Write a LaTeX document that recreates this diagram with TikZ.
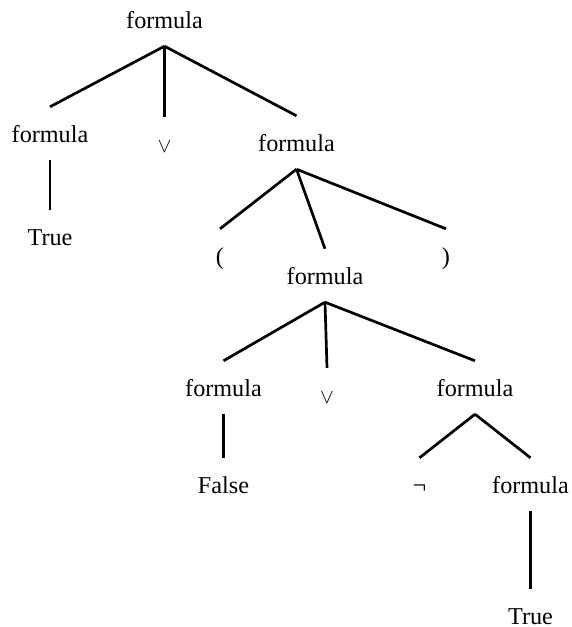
\documentclass[tikz,border=0pt]{standalone}
\usepackage{fontspec}
\setmainfont{Liberation Serif}

\begin{document}
\begin{tikzpicture}[%
	x=1pt, y=1pt,
	grow=down,
	every node/.style = {anchor=base, inner sep=0pt, text height=35.5pt, text depth=17.5pt,
	  font=\fontsize{24.2}{29}\selectfont},
	op/.style={font=\fontsize{22}{26}\selectfont},
	lastleaf/.style={text depth=0pt},
	edge from parent/.style={draw, line width=2.7pt},
	edge from parent path={(\tikzparentnode.south) -- (\tikzchildnode.north)},
	level 1/.style={sibling distance=123pt},
	level 2/.style={sibling distance=113pt},
	level 3/.style={sibling distance=126pt},
	level 4/.style={sibling distance=111pt}
	]
  \useasboundingbox (0,0) rectangle (571,-627);
  \node (root) at (164.5,-28.5) {formula}
    child [xshift=8.5pt, level distance=123pt] { node (f1) {formula}
    		child [level distance=112pt] { node (t1) {True} } }
    child [level distance=133pt] { node (or1) [op] {$\vee$} }
    child [xshift=9pt, level distance=132pt] { node (f2) {formula}
    		child [xshift=36.5pt, level distance=122pt] { node (lp) {(} }
    		child [xshift=28.5pt, level distance=142pt] { node (f3) {formula}
    			child [xshift=24.5pt, level distance=121pt] { node (f4) {formula}
    				child [level distance=106pt] { node (fa) {False} } }
    			child [xshift=2pt, level distance=128pt] { node (or2) [op] {$\vee$} }
    			child [xshift=24pt, level distance=121pt] { node (f5) {formula}
    				child [level distance=106pt] { node (ng) {¬} }
    				child [level distance=106pt] { node (f6) {formula}
    					child [level distance=140pt] { node (t2) [lastleaf] {True} } } } }
    		child [xshift=36.5pt, level distance=122pt] { node (rp) {)} } };
\end{tikzpicture}
\end{document}
